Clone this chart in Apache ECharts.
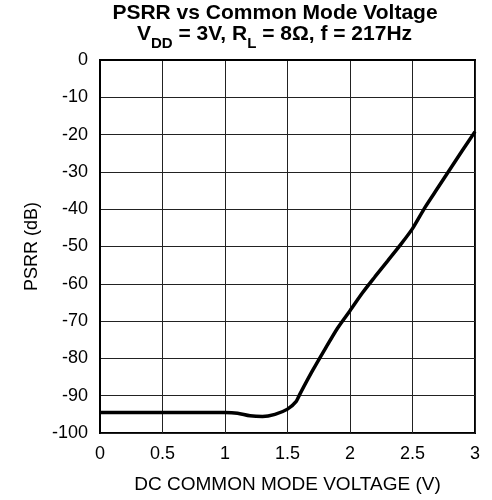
<!DOCTYPE html>
<html>
<head>
<meta charset="utf-8">
<script src="https://cdn.jsdelivr.net/npm/echarts@6/dist/echarts.min.js"></script>
<style>html,body{margin:0;padding:0;background:#fff}#c{width:492px;height:500px}</style>
</head>
<body>
<div id="c"></div>
<script>
var voltage = [0, 0.5, 1.0, 1.1, 1.2, 1.3, 1.4, 1.5, 1.57, 1.6, 1.7, 1.8, 1.9, 2.0, 2.1, 2.2, 2.3, 2.4, 2.5, 2.6, 2.7, 2.8, 2.9, 3.0];
var psrr = [-94.5, -94.5, -94.5, -94.7, -95.4, -95.6, -95.0, -93.6, -91.5, -89.5, -83.3, -77.5, -71.9, -67.2, -62.4, -58.1, -53.9, -49.7, -45.2, -39.5, -34.4, -29.3, -24.2, -19.2];
var yTicks = {min: -100, max: 0, step: 10};
var xTicks = {min: 0, max: 3, step: 0.5};
var titleLine1 = 'PSRR vs Common Mode Voltage';
var titleLine2 = '{b|V}{s|DD}{b| = 3V, R}{s|L}{b| = 8Ω, f = 217Hz}';

var pts = voltage.map(function (v, i) { return [v, psrr[i]]; });
var font = 'Liberation Sans, Arial, sans-serif';
var chart = echarts.init(document.getElementById('c'), null, {renderer: 'canvas'});
chart.setOption({
  animation: false,
  backgroundColor: '#fff',
  graphic: [
    {type: 'text', x: 275, y: 13, z: 10,
     style: {text: titleLine1, fill: '#000', font: 'bold 21px ' + font, align: 'center', verticalAlign: 'middle'}},
    {type: 'text', x: 274.5, y: 34, z: 10,
     style: {text: titleLine2, fill: '#000', font: 'bold 21px ' + font, align: 'center', verticalAlign: 'middle',
       rich: {
         b: {fill: '#000', fontSize: 21, fontWeight: 'bold', fontFamily: font, lineHeight: 22},
         s: {fill: '#000', fontSize: 15, fontWeight: 'bold', fontFamily: font, verticalAlign: 'bottom', padding: [0, 0, -6, 0]}
       }}}
  ],
  grid: {left: 100, right: 17, top: 60, bottom: 67, show: true, borderColor: '#000', borderWidth: 2, containLabel: false},
  xAxis: {
    type: 'value', min: xTicks.min, max: xTicks.max, interval: xTicks.step,
    name: 'DC COMMON MODE VOLTAGE (V)', nameLocation: 'middle', nameGap: 42,
    nameTextStyle: {fontFamily: font, fontSize: 19, color: '#000'},
    axisLine: {show: true, lineStyle: {color: '#000', width: 2}},
    axisTick: {show: false},
    axisLabel: {fontFamily: font, fontSize: 18, color: '#000', margin: 12},
    splitLine: {show: true, lineStyle: {color: '#222', width: 1}}
  },
  yAxis: {
    type: 'value', min: yTicks.min, max: yTicks.max, interval: yTicks.step,
    name: 'PSRR (dB)', nameLocation: 'middle', nameGap: 58, nameRotate: 90,
    nameTextStyle: {fontFamily: font, fontSize: 18, color: '#000'},
    axisLine: {show: true, lineStyle: {color: '#000', width: 2}},
    axisTick: {show: false},
    axisLabel: {fontFamily: font, fontSize: 18, color: '#000', margin: 12},
    splitLine: {show: true, lineStyle: {color: '#222', width: 1}}
  },
  series: [{
    type: 'line', data: pts, showSymbol: false, smooth: 0.25,
    lineStyle: {color: '#000', width: 3.5}, z: 5
  }]
});
</script>
</body>
</html>
